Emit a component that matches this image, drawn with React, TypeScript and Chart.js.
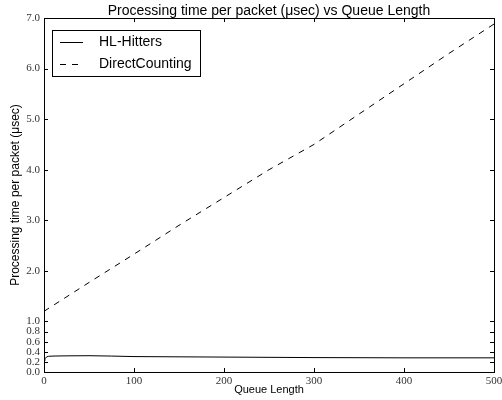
import React, { useEffect, useRef } from "react";
import { Chart, registerables } from "chart.js";

Chart.register(...registerables);

const hlX = [0, 1, 3, 5, 10, 20, 30, 50, 75, 100, 150, 200, 250, 300, 350, 400, 450, 500];
const hlY = [0.22, 0.26, 0.3, 0.31, 0.315, 0.318, 0.32, 0.322, 0.315, 0.305, 0.3, 0.295, 0.29, 0.285, 0.283, 0.28, 0.28, 0.28];

const dcX = [0, 50, 100, 150, 200, 250, 300, 350, 400, 450, 500];
const dcY = [1.2, 1.77, 2.33, 2.9, 3.45, 4.0, 4.5, 5.1, 5.7, 6.3, 6.88];

const yTicks = [0, 0.2, 0.4, 0.6, 0.8, 1.0, 2.0, 3.0, 4.0, 5.0, 6.0, 7.0];
const xTicks = [0, 100, 200, 300, 400, 500];

const seriesNames = ["HL-Hitters", "DirectCounting"];
const titleText = "Processing time per packet (\u03bcsec) vs Queue Length";
const xTitle = "Queue Length";
const yTitle = "Processing time per packet (\u03bcsec)";

const SANS = "'Liberation Sans', Arial, sans-serif";

const frame = {
  id: "frame",
  afterDraw(chart: any) {
    const { ctx, chartArea: a, scales } = chart;
    ctx.save();
    ctx.strokeStyle = "#000";
    ctx.lineWidth = 1;
    ctx.setLineDash([]);
    ctx.strokeRect(Math.round(a.left) + 0.5, Math.round(a.top) + 0.5, Math.round(a.right - a.left), Math.round(a.bottom - a.top));
    const L = 4;
    ctx.beginPath();
    for (const v of xTicks) {
      const px = Math.round(scales.x.getPixelForValue(v)) + 0.5;
      ctx.moveTo(px, a.bottom);
      ctx.lineTo(px, a.bottom - L);
      ctx.moveTo(px, a.top);
      ctx.lineTo(px, a.top + L);
    }
    for (const v of yTicks) {
      const py = Math.round(scales.y.getPixelForValue(v)) + 0.5;
      ctx.moveTo(a.left, py);
      ctx.lineTo(a.left + L, py);
      ctx.moveTo(a.right, py);
      ctx.lineTo(a.right - L, py);
    }
    ctx.stroke();

    // title centred over the plot area
    ctx.fillStyle = "#000";
    ctx.font = `14px ${SANS}`;
    ctx.textAlign = "center";
    ctx.textBaseline = "middle";
    ctx.fillText(titleText, (a.left + a.right) / 2, 11.5);

    // legend
    const bx = 52.5, by = 30.5, bw = 148, bh = 46;
    ctx.fillStyle = "#fff";
    ctx.fillRect(bx, by, bw, bh);
    ctx.strokeRect(bx, by, bw, bh);
    ctx.font = `14px ${SANS}`;
    ctx.textAlign = "left";
    ctx.textBaseline = "middle";
    ctx.fillStyle = "#000";
    chart.data.datasets.forEach((ds: any, i: number) => {
      const y = 42.5 + i * 22;
      ctx.setLineDash(ds.borderDash || []);
      ctx.beginPath();
      ctx.moveTo(60, y);
      ctx.lineTo(83, y);
      ctx.stroke();
      ctx.setLineDash([]);
      ctx.fillText(ds.label, 99, y);
    });
    ctx.restore();
  },
};

export default function App() {
  const ref = useRef<HTMLCanvasElement>(null);
  useEffect(() => {
    document.body.style.margin = "0";
    const chart = new Chart(ref.current!, {
      type: "line",
      data: {
        datasets: [
          {
            label: seriesNames[0],
            data: hlX.map((x, i) => ({ x, y: hlY[i] })),
            borderColor: "#000",
            borderWidth: 1,
            pointRadius: 0,
            fill: false,
            tension: 0,
          },
          {
            label: seriesNames[1],
            data: dcX.map((x, i) => ({ x, y: dcY[i] })),
            borderColor: "#000",
            borderWidth: 1,
            borderDash: [6, 6],
            pointRadius: 0,
            fill: false,
            tension: 0,
          },
        ],
      },
      options: {
        responsive: false,
        animation: false,
        layout: { padding: { left: 0, right: 26, top: 18, bottom: 0 } },
        plugins: {
          legend: { display: false },
          tooltip: { enabled: false },
          title: { display: false },
        },
        scales: {
          x: {
            type: "linear",
            min: 0,
            max: 500,
            afterBuildTicks: (s: any) => { s.ticks = xTicks.map((v) => ({ value: v })); },
            afterFit: (s: any) => { s.height = 28; },
            grid: { display: false, drawTicks: false },
            border: { display: false },
            ticks: {
              padding: 3,
              color: "#333",
              autoSkip: false,
              maxRotation: 0,
              font: { family: "'Liberation Serif', 'DejaVu Serif', serif", size: 11 },
              callback: (v: any) => String(v),
            },
            title: {
              display: true,
              text: xTitle,
              color: "#000",
              font: { family: SANS, size: 11 },
              padding: { top: 0, bottom: 3 },
            },
          },
          y: {
            type: "linear",
            min: 0,
            max: 7,
            afterBuildTicks: (s: any) => { s.ticks = yTicks.map((v) => ({ value: v })); },
            afterFit: (s: any) => { s.width = 44; },
            grid: { display: false, drawTicks: false },
            border: { display: false },
            ticks: {
              padding: 4,
              color: "#333",
              autoSkip: false,
              font: { family: "'Liberation Serif', 'DejaVu Serif', serif", size: 11 },
              callback: (v: any) => Number(v).toFixed(1),
            },
            title: {
              display: true,
              text: yTitle,
              color: "#000",
              font: { family: SANS, size: 12 },
              padding: { top: 8, bottom: 0 },
            },
          },
        },
      },
      plugins: [frame],
    } as any);
    return () => chart.destroy();
  }, []);
  return (
    <div style={{ width: 502, height: 400, overflow: "hidden", background: "#fff" }}>
      <canvas ref={ref} width={520} height={400} style={{ width: 520, height: 400, display: "block" }} />
    </div>
  );
}
